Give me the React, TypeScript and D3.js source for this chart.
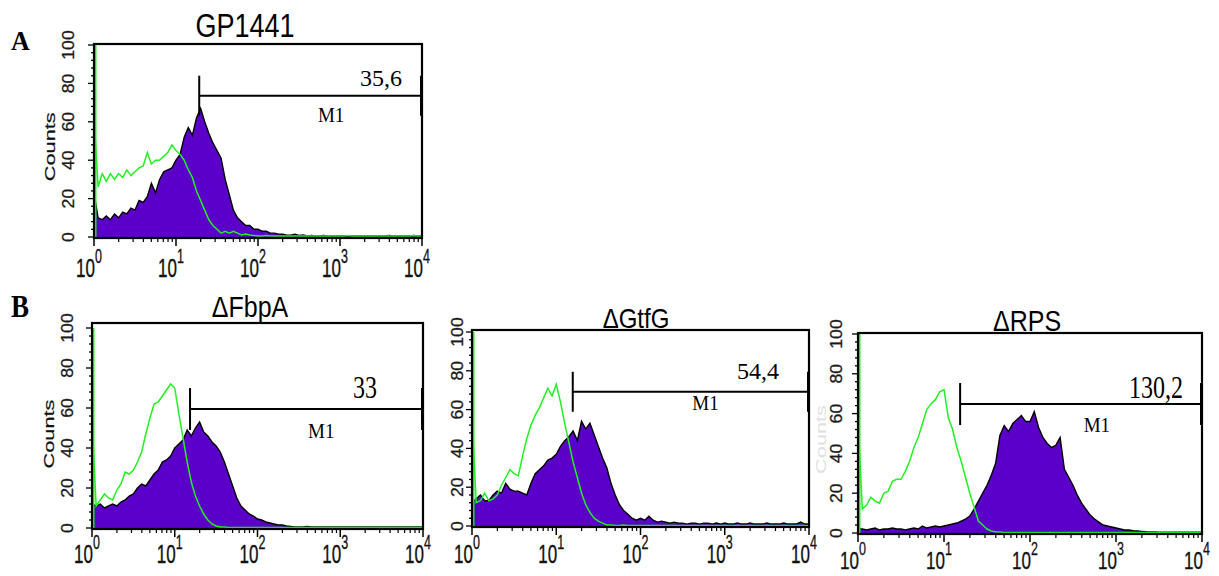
import React from "react";
import * as d3 from "d3";

// channel grid (log10 of fluorescence), 0.05 decade per channel
const channelLog: number[] = d3.range(0, 81).map((i) => i * 0.05);

// ---- Panel A: GP1441 ----
const gp1441Stained = [
  23, 10, 9, 11, 9, 12, 10, 13, 12, 15,
  14, 19, 18, 21, 28, 23, 30, 34, 35, 36,
  40, 43, 52, 57, 53, 62, 67, 60, 54, 49,
  45, 41, 30, 22, 14, 10, 8, 6, 6, 4,
  4, 3, 3, 2, 2, 1.5, 1.5, 1, 1, 1.5,
  0.8, 1, 0.5, 0.8, 0.5, 0.5, 0.8, 0.5, 0.5, 0.5,
  0.6, 0.5, 0.5, 0.5, 0.5, 0.5, 0.6, 0.5, 0.5, 0.5,
  0.5, 0.5, 0.8, 0.5, 0.5, 0.5, 0.5, 0.5, 0.8, 0.5,
  0.5,
];
const gp1441Control = [
  63, 26, 33, 29, 33, 30, 33, 31, 35, 32,
  34, 36, 37, 44, 38, 40, 40, 42, 44, 48,
  45, 43, 40, 35, 31, 24, 19, 14, 9, 6,
  4, 2, 3, 2, 3, 2, 1, 1.5, 1, 0.8,
  0.5, 0.5, 0.8, 0.5, 0.5, 0.5, 0.5, 0.5, 0.5, 0.5,
  0.5, 0.5, 0.5, 0.5, 0.5, 0.5, 0.5, 0.5, 0.5, 0.5,
  0.5, 0.5, 0.8, 0.5, 0.5, 0.5, 0.5, 0.5, 0.5, 0.5,
  0.5, 0.5, 0.5, 0.5, 0.5, 0.5, 0.5, 0.5, 0.8, 0.5,
  0.5,
];

// ---- Panel B: ΔFbpA ----
const fbpAStained = [
  12, 11, 12, 10, 11, 12, 11, 13, 14, 16,
  17, 20, 22, 21, 24, 27, 29, 33, 34, 36,
  40, 42, 44, 49, 46, 50, 53, 48, 46, 43,
  41, 38, 33, 27, 21, 15, 11, 9, 7, 6,
  4.5, 4, 3, 2.5, 2, 1.5, 1.5, 1, 0.8, 0.5,
  0.5, 0.5, 0.8, 0.5, 0.5, 0.5, 0.5, 0.5, 0.5, 0.5,
  0.5, 0.5, 0.5, 0.5, 0.5, 0.5, 0.5, 0.5, 0.5, 0.5,
  0.5, 0.5, 0.5, 0.5, 0.5, 0.5, 0.5, 0.5, 0.5, 0.5,
  0.5,
];
const fbpAControl = [
  55, 11, 14, 17, 15, 14, 19, 22, 28, 27,
  29, 33, 38, 47, 55, 62, 63, 66, 69, 72,
  70, 57, 45, 33, 23, 16, 11, 7, 4, 2,
  1, 0.5, 0.5, 0.3, 0.3, 0.3, 0.3, 0.3, 0.3, 0.3,
  0.3, 0.3, 0.3, 0.3, 0.3, 0.3, 0.3, 0.3, 0.3, 0.3,
  0.3, 0.3, 0.3, 0.3, 0.3, 0.3, 0.3, 0.3, 0.3, 0.3,
  0.3, 0.3, 0.3, 0.3, 0.3, 0.3, 0.3, 0.3, 0.3, 0.3,
  0.3, 0.3, 0.3, 0.3, 0.3, 0.3, 0.3, 0.3, 0.3, 0.3,
  0.3,
];

// ---- Panel B: ΔGtfG ----
const gtfGStained = [
  12, 14, 16, 13, 13, 16, 18, 17, 22, 19,
  18, 18, 17, 16, 22, 27, 29, 31, 34, 35,
  37, 41, 44, 46, 49, 44, 54, 50, 53, 47,
  41, 35, 30, 22, 16, 11, 8, 6, 4, 3,
  4, 3, 5, 3, 2, 2.5, 2, 1.5, 2, 1.5,
  1.5, 1, 1.5, 1.5, 1, 1.5, 1.5, 1, 1.5, 1,
  1.5, 1, 1, 1.5, 1, 1, 1.5, 1, 1, 1,
  1.5, 1, 1, 1, 1.5, 1, 1, 1, 2, 1,
  1,
];
const gtfGControl = [
  58, 12, 13, 17, 13, 14, 16, 21, 25, 29,
  27, 26, 36, 45, 52, 57, 61, 66, 71, 67,
  73, 64, 53, 43, 33, 25, 17, 11, 7, 4,
  2.5, 1.5, 0.5, 0.5, 0.3, 0.3, 0.5, 0.3, 0.3, 0.3,
  0.3, 0.3, 0.3, 0.3, 0.3, 0.3, 0.3, 0.3, 0.3, 0.3,
  0.3, 0.3, 0.3, 0.3, 0.3, 0.3, 0.3, 0.3, 0.3, 0.3,
  0.3, 0.3, 0.3, 0.3, 0.3, 0.3, 0.3, 0.3, 0.3, 0.3,
  0.3, 0.3, 0.3, 0.3, 0.3, 0.3, 0.3, 0.3, 0.3, 0.3,
  0.3,
];

// ---- Panel B: ΔRPS ----
const rpsStained = [
  2, 2, 1.5, 2, 2.5, 1.5, 2, 2, 2.5, 2,
  2, 1.5, 2, 2.5, 2, 3.5, 2.5, 3, 3.5, 3,
  3.5, 4, 4.5, 5, 6, 7, 8.5, 12, 16, 20,
  24, 29, 35, 49, 54, 51, 55, 57, 59, 56,
  56, 61, 53, 48, 45, 43, 44, 48, 32, 28,
  24, 19, 15, 12, 9, 7, 5.5, 4, 3.5, 3,
  2.5, 2, 1.5, 1.5, 1.2, 1, 0.8, 0.6, 0.5, 0.5,
  0.4, 0.4, 0.4, 0.4, 0.4, 0.4, 0.4, 0.4, 0.4, 0.4,
  0.4,
];
const rpsControl = [
  57, 12, 14, 18, 16, 15, 20, 21, 26, 27,
  27, 31, 36, 43, 48, 55, 62, 65, 67, 71,
  72, 58, 52, 43, 36, 28, 20, 13, 6, 4,
  2, 1, 0.5, 0.5, 0.3, 0.3, 0.3, 0.3, 0.3, 0.3,
  0.3, 0.3, 0.3, 0.3, 0.3, 0.3, 0.3, 0.3, 0.3, 0.3,
  0.3, 0.3, 0.3, 0.3, 0.3, 0.3, 0.3, 0.3, 0.3, 0.3,
  0.3, 0.3, 0.3, 0.3, 0.3, 0.3, 0.3, 0.3, 0.3, 0.3,
  0.3, 0.3, 0.3, 0.3, 0.3, 0.3, 0.3, 0.3, 0.3, 0.3,
  0.3,
];

const controlFirstChannel = [100, 100, 100, 100];
const panelTitles = ["GP1441", "\u0394FbpA", "\u0394GtfG", "\u0394RPS"];
const gateStarts = [19.2, 15.3, 15.7, 15.4];
const gateEnds = [10000, 10000, 10000, 10000];
const gateLevels = [73.6, 59.5, 69.2, 64.8];
const gateValues = ["35,6", "33", "54,4", "130,2"];
const gateNames = ["M1", "M1", "M1", "M1"];
const gateNamePos = [780, 590, 590, 600];
const decadeTicks = [1, 10, 100, 1000, 10000];
const decadeExponents = ["0", "1", "2", "3", "4"];
const countTicks = [0, 20, 40, 60, 80, 100];
const yAxisTitle = "Counts";
const panelLetters = ["A", "B"];

const stainedSeries = [gp1441Stained, fbpAStained, gtfGStained, rpsStained];
const controlSeries = [gp1441Control, fbpAControl, gtfGControl, rpsControl];

const SANS = "'Liberation Sans', Arial, Helvetica, sans-serif";
const SERIF = "'Liberation Serif', 'Times New Roman', Times, serif";
const PURPLE = "#5a00c8";
const GREEN = "#22f022";

const layouts = [
  { left: 94, right: 422, yTop: 45, yBottom: 237, frameTop: 44, yLabOff: 25, countsOff: 44, countsOp: 1,
    tickBase: 277, tickSY: 1.55, titleX: 245, titleY: 37, titleSize: 27, titleSY: 1.2,
    valDx: 20, valDy: 10, valSY: 1.0, m1Dy: 26, gateHalf: 20 },
  { left: 92, right: 423, yTop: 328, yBottom: 528, frameTop: 323, yLabOff: 24, countsOff: 43, countsOp: 1,
    tickBase: 563, tickSY: 1.55, titleX: 250, titleY: 317, titleSize: 25, titleSY: 1.15,
    valDx: 46, valDy: 11, valSY: 1.3, m1Dy: 29, gateHalf: 21 },
  { left: 472, right: 809, yTop: 332, yBottom: 526, frameTop: 330, yLabOff: 14, countsOff: 33, countsOp: 0,
    tickBase: 563, tickSY: 1.55, titleX: 636, titleY: 328, titleSize: 24, titleSY: 1.15,
    valDx: 30, valDy: 13, valSY: 1.0, m1Dy: 18, gateHalf: 20 },
  { left: 858, right: 1202, yTop: 334, yBottom: 533, frameTop: 333, yLabOff: 21, countsOff: 37, countsOp: 0.12,
    tickBase: 569, tickSY: 1.4, titleX: 1027, titleY: 331, titleSize: 25, titleSY: 1.15,
    valDx: 19, valDy: 6, valSY: 1.3, m1Dy: 28, gateHalf: 21 },
];

type Pt = [number, number];

function Panel({ idx }: { idx: number }) {
  const L = layouts[idx];
  const x = d3.scaleLog().domain([1, 10000]).range([L.left, L.right]);
  const y = d3.scaleLinear().domain([0, 100]).range([L.yBottom, L.yTop]);
  const toPts = (arr: number[]): Pt[] => arr.map((v, i) => [Math.pow(10, channelLog[i]), v]);
  const stained = toPts(stainedSeries[idx]);
  const control = toPts(controlSeries[idx]);
  const area = d3
    .area<Pt>()
    .x((d) => x(d[0]))
    .y0(y(0))
    .y1((d) => y(Math.min(d[1], 100)));
  const line = d3
    .line<Pt>()
    .x((d) => x(d[0]))
    .y((d) => y(Math.min(d[1], 100)));

  const frameBottom = y(0) + 1;
  const yTicks = d3.range(0, 101, 4);
  const minorX: number[] = [];
  [1, 10, 100, 1000].forEach((dec) => {
    for (let m = 2; m <= 9; m++) minorX.push(dec * m);
  });

  const gy = y(gateLevels[idx]);
  const gx0 = x(gateStarts[idx]);
  const gx1 = x(gateEnds[idx]) - 1;
  const countsY = y(47);

  return (
    <g>
      <text
        transform={`translate(${L.titleX},${L.titleY}) scale(1,${L.titleSY})`}
        textAnchor="middle"
        fontFamily={SANS}
        fontSize={L.titleSize}
        fill="#000"
      >
        {panelTitles[idx]}
      </text>

      <path d={area(stained) || ""} fill={PURPLE} />
      <path d={line(stained) || ""} fill="none" stroke="#000" strokeWidth={1.4} strokeLinejoin="miter" />
      <line
        x1={x(1) + 1.5}
        x2={x(1) + 1.5}
        y1={y(0)}
        y2={y(controlFirstChannel[idx])}
        stroke={GREEN}
        strokeWidth={2}
      />
      <path d={line(control) || ""} fill="none" stroke={GREEN} strokeWidth={1.5} strokeLinejoin="miter" />

      <rect
        x={L.left}
        y={L.frameTop}
        width={L.right - L.left}
        height={frameBottom - L.frameTop}
        fill="none"
        stroke="#000"
        strokeWidth={2.2}
      />

      {yTicks.map((t) => (
        <line
          key={"yt" + t}
          x1={L.left}
          x2={L.left - (t % 20 === 0 ? 6 : 3)}
          y1={y(t)}
          y2={y(t)}
          stroke="#000"
          strokeWidth={1.3}
        />
      ))}
      {countTicks.map((t) => (
        <text
          key={"yl" + t}
          transform={`translate(${L.left - L.yLabOff},${y(t)}) rotate(-90) scale(1.1,1)`}
          textAnchor="middle"
          dominantBaseline="central"
          fontFamily={SANS}
          fontSize={16}
          fill="#1a1a1a"
          stroke="#1a1a1a"
          strokeWidth={0.3}
        >
          {t}
        </text>
      ))}
      <text
        transform={`translate(${L.left - L.countsOff},${countsY}) rotate(-90) scale(1.45,1)`}
        textAnchor="middle"
        dominantBaseline="central"
        fontFamily={SANS}
        fontSize={15}
        fill="#111"
        stroke="#111"
        strokeWidth={0.2}
        opacity={L.countsOp}
      >
        {yAxisTitle}
      </text>

      {decadeTicks.map((t) => (
        <line key={"xM" + t} x1={x(t)} x2={x(t)} y1={frameBottom} y2={frameBottom + 8} stroke="#000" strokeWidth={1.5} />
      ))}
      {minorX.map((t) => (
        <line key={"xm" + t} x1={x(t)} x2={x(t)} y1={frameBottom} y2={frameBottom + 4} stroke="#000" strokeWidth={1.2} />
      ))}
      {decadeTicks.map((t, i) => (
        <g key={"xl" + t} transform={`translate(${x(t) + 1},${L.tickBase})`}>
          <text
            transform={`scale(1,${L.tickSY})`}
            textAnchor="end"
            fontFamily={SANS}
            fontSize={17}
            fill="#111"
            stroke="#111"
            strokeWidth={0.25}
          >
            10
          </text>
          <text
            transform={`translate(0,-14) scale(1,${L.tickSY})`}
            textAnchor="start"
            fontFamily={SANS}
            fontSize={12.5}
            fill="#111"
            stroke="#111"
            strokeWidth={0.2}
          >
            {decadeExponents[i]}
          </text>
        </g>
      ))}

      <line x1={gx0} x2={gx1} y1={gy} y2={gy} stroke="#000" strokeWidth={2} />
      <line x1={gx0} x2={gx0} y1={gy - L.gateHalf} y2={gy + L.gateHalf} stroke="#000" strokeWidth={2} />
      <line x1={gx1} x2={gx1} y1={gy - L.gateHalf} y2={gy + L.gateHalf} stroke="#000" strokeWidth={2} />
      <text
        transform={`translate(${L.right - L.valDx},${gy - L.valDy}) scale(1,${L.valSY})`}
        textAnchor="end"
        fontFamily={SERIF}
        fontSize={24}
        fill="#000"
      >
        {gateValues[idx]}
      </text>
      <text
        transform={`translate(${x(gateNamePos[idx])},${gy + L.m1Dy}) scale(1,1.15)`}
        textAnchor="middle"
        fontFamily={SERIF}
        fontSize={19}
        fill="#000"
      >
        {gateNames[idx]}
      </text>
    </g>
  );
}

export default function App() {
  return (
    <svg
      width={1219}
      height={576}
      viewBox="0 0 1219 576"
      style={{ position: "absolute", left: 0, top: 0, background: "#fff" }}
    >
      <rect x={0} y={0} width={1219} height={576} fill="#fff" />
      <text transform="translate(11,50) scale(1,1.05)" fontFamily={SERIF} fontWeight="bold" fontSize={26} fill="#000">
        {panelLetters[0]}
      </text>
      <text transform="translate(11,317) scale(1,1.15)" fontFamily={SERIF} fontWeight="bold" fontSize={27} fill="#000">
        {panelLetters[1]}
      </text>
      {[0, 1, 2, 3].map((i) => (
        <Panel key={i} idx={i} />
      ))}
    </svg>
  );
}
